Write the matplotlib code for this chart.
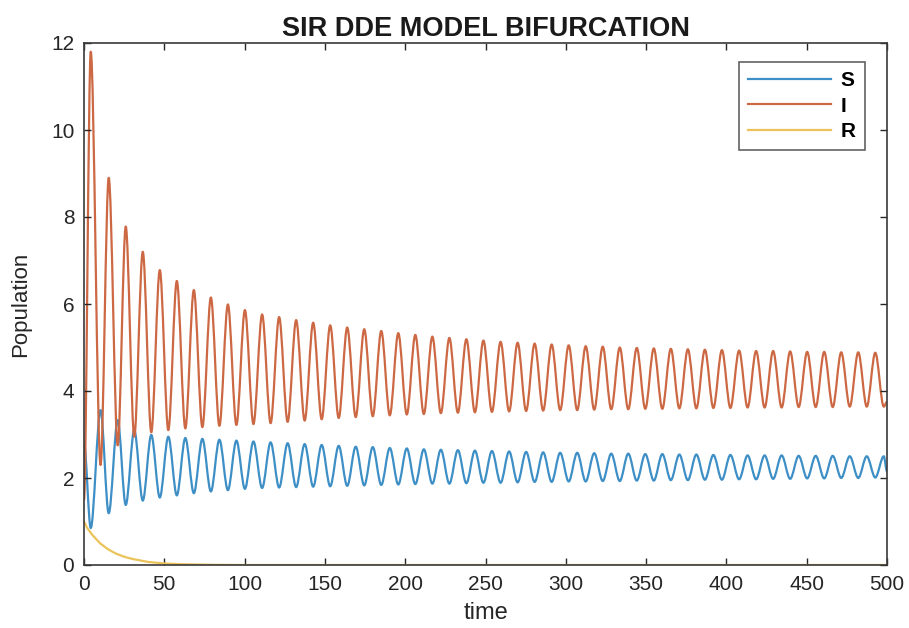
import matplotlib
matplotlib.use("Agg")
import matplotlib.pyplot as plt
from matplotlib.path import Path
from matplotlib.patches import PathPatch
from matplotlib.lines import Line2D

plt.rcParams['font.family'] = ['Liberation Sans', 'DejaVu Sans']

# ---- data ----
# start / end of the simulation
t_start, t_end = 0.0, 500.0
S_start, S_end = 2.8, 2.15
I_start, I_end = 1.5, 3.75

# times of I maxima (= S minima)
t_I_peak = [4.2, 15.4, 26.0, 36.6, 47.2, 57.8, 68.4, 79.0, 89.6, 100.2, 110.9,
            121.5, 132.1, 142.7, 153.3, 163.9, 174.5, 185.1, 195.7, 206.3, 216.9,
            227.5, 238.1, 248.7, 259.4, 270.0, 280.6, 291.2, 301.8, 312.4, 323.0,
            333.6, 344.2, 354.8, 365.4, 376.0, 386.6, 397.2, 407.9, 418.5, 429.1,
            439.7, 450.3, 460.9, 471.5, 482.1, 492.7]
# times of I minima (= S maxima)
t_I_trough = [10.3, 21.0, 31.3, 41.9, 52.5, 63.1, 73.7, 84.3, 94.9, 105.5,
              116.2, 126.8, 137.4, 148.0, 158.6, 169.2, 179.8, 190.4, 201.0, 211.6,
              222.2, 232.8, 243.4, 254.0, 264.7, 275.3, 285.9, 296.5, 307.1, 317.7,
              328.3, 338.9, 349.5, 360.1, 370.7, 381.3, 391.9, 402.5, 413.2, 423.8,
              434.4, 445.0, 455.6, 466.2, 476.8, 487.4, 498.0]

I_peak = [11.8, 8.9, 7.78, 7.2, 6.78, 6.53, 6.32, 6.15, 5.99, 5.86, 5.76,
          5.70, 5.63, 5.57, 5.51, 5.46, 5.42, 5.38, 5.33, 5.29, 5.25,
          5.22, 5.19, 5.16, 5.13, 5.11, 5.09, 5.07, 5.05, 5.03, 5.02,
          5.00, 4.99, 4.98, 4.97, 4.96, 4.95, 4.94, 4.93, 4.92, 4.92,
          4.91, 4.90, 4.90, 4.89, 4.89, 4.88]
I_trough = [2.3, 2.75, 2.95, 3.05, 3.1, 3.14, 3.17, 3.2, 3.22, 3.24,
            3.26, 3.29, 3.32, 3.35, 3.38, 3.40, 3.42, 3.44, 3.46, 3.47,
            3.49, 3.50, 3.51, 3.52, 3.53, 3.54, 3.55, 3.56, 3.56, 3.57,
            3.58, 3.58, 3.59, 3.59, 3.60, 3.60, 3.61, 3.61, 3.62, 3.62,
            3.62, 3.63, 3.63, 3.63, 3.64, 3.64, 3.64]
S_trough = [0.85, 1.19, 1.38, 1.48, 1.55, 1.60, 1.65, 1.69, 1.72, 1.75, 1.77,
            1.78, 1.79, 1.80, 1.81, 1.82, 1.83, 1.84, 1.85, 1.86, 1.87,
            1.87, 1.88, 1.89, 1.89, 1.90, 1.91, 1.91, 1.92, 1.92, 1.93,
            1.93, 1.94, 1.94, 1.95, 1.95, 1.96, 1.96, 1.97, 1.97, 1.98,
            1.98, 1.99, 1.99, 2.00, 2.00, 2.01]
S_peak = [3.56, 3.33, 3.1, 2.99, 2.95, 2.92, 2.9, 2.88, 2.86, 2.84,
          2.82, 2.80, 2.78, 2.76, 2.74, 2.72, 2.71, 2.69, 2.68, 2.66,
          2.65, 2.64, 2.63, 2.62, 2.61, 2.60, 2.59, 2.58, 2.58, 2.57,
          2.56, 2.56, 2.55, 2.55, 2.54, 2.54, 2.53, 2.53, 2.52, 2.52,
          2.52, 2.51, 2.51, 2.51, 2.50, 2.50, 2.50]

t_R = [0, 2, 5, 10, 15, 20, 25, 30, 40, 50, 60, 80, 100, 500]
R_vals = [1.0, 0.85, 0.7, 0.5, 0.36, 0.26, 0.19, 0.14, 0.07, 0.035, 0.018, 0.005, 0.0, 0.0]

labels = ['S', 'I', 'R']
xticks = list(range(0, 501, 50))
yticks = list(range(0, 13, 2))

col_S = '#3d8fc6'
col_I = '#cc6843'
col_R = '#ebc35a'


def series(t_a, v_a, t_b, v_b, t0, v0, t1, v1):
    pts = [(t0, v0)]
    n = min(len(t_a), len(v_a), len(t_b), len(v_b))
    for k in range(n):
        pts.append((t_a[k], v_a[k]))
        pts.append((t_b[k], v_b[k]))
    pts.append((t1, v1))
    return pts


def smooth_patch(pts, color, lw):
    verts = [pts[0]]
    codes = [Path.MOVETO]
    for (x0, y0), (x1, y1) in zip(pts[:-1], pts[1:]):
        dx = (x1 - x0) / 3.0
        verts += [(x0 + dx, y0), (x1 - dx, y1), (x1, y1)]
        codes += [Path.CURVE4] * 3
    return PathPatch(Path(verts, codes), facecolor='none', edgecolor=color,
                     lw=lw, capstyle='round', joinstyle='round')


fig = plt.figure(figsize=(9.09, 6.28), dpi=100)
ax = fig.add_axes([84 / 909, 1 - 565 / 628, (887 - 84) / 909, (565 - 43) / 628])

S_pts = series(t_I_peak, S_trough, t_I_trough, S_peak, t_start, S_start, t_end, S_end)
I_pts = series(t_I_peak, I_peak, t_I_trough, I_trough, t_start, I_start, t_end, I_end)

ax.add_patch(smooth_patch(S_pts, col_S, 1.6))
ax.add_patch(smooth_patch(I_pts, col_I, 1.6))
ax.plot(t_R, R_vals, color=col_R, lw=1.6)

ax.set_xlim(0, 500)
ax.set_ylim(0, 12)
ax.set_xticks(xticks)
ax.set_yticks(yticks)
ax.tick_params(direction='in', top=True, right=True, length=5, width=1,
               labelsize=15, colors='#262626', pad=7)
for sp in ax.spines.values():
    sp.set_color('#3a3a3a')
    sp.set_linewidth(1.2)

ax.set_title('SIR DDE MODEL BIFURCATION', fontsize=19.5, fontweight='bold',
             color='#1a1a1a', pad=5)
ax.set_xlabel('time', fontsize=17, color='#262626', labelpad=6)
ax.set_ylabel('Population', fontsize=16, color='#262626', labelpad=14)

handles = [Line2D([], [], color=c, lw=1.6) for c in (col_S, col_I, col_R)]
leg = ax.legend(handles, labels, loc='upper right', bbox_to_anchor=(0.9726, 0.9636),
                borderaxespad=0, fontsize=15, frameon=True, fancybox=False,
                edgecolor='#3a3a3a', handlelength=4.0, handletextpad=0.45,
                borderpad=0.45, labelspacing=0.3)
leg.get_frame().set_linewidth(1.2)
for txt in leg.get_texts():
    txt.set_fontweight('bold')

fig.savefig('out.png', dpi=100)
